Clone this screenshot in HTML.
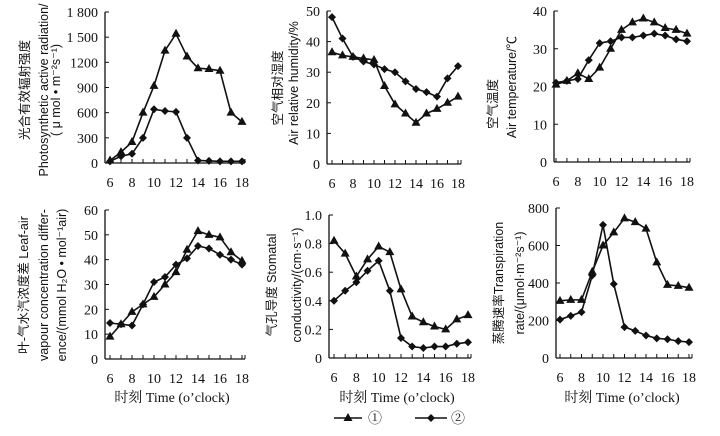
<!DOCTYPE html>
<html><head><meta charset="utf-8">
<style>
html,body{margin:0;padding:0;background:#fff;}
svg{display:block;}
.tk{font-family:"Liberation Serif","Noto Serif CJK SC",serif;font-size:14px;fill:#111;}
.yl{font-family:"Liberation Sans","Noto Sans CJK SC",sans-serif;font-size:12.5px;fill:#111;}
.xt{font-family:"Liberation Serif","Noto Serif CJK SC",serif;font-size:14px;fill:#111;}
</style></head>
<body>
<svg id="c" width="720" height="436" viewBox="0 0 720 436" xmlns="http://www.w3.org/2000/svg"></svg>
<script>
const hours=[6,7,8,9,10,11,12,13,14,15,16,17,18];
const xTickLabels=[6,8,10,12,14,16,18];
const p1S1=[30,130,250,600,920,1340,1540,1270,1130,1120,1100,600,490];
const p1S2=[20,80,110,300,640,620,610,300,30,25,20,20,20];
const p1Ticks=["0","300","600","900","1200","1 500","1 800"];
const p2S1=[36.5,35.5,35,34.5,34,25.5,19.5,16.5,13.5,16.5,18,20,22];
const p2S2=[48,41,35,33.5,32.5,31,30,27,24.5,23.5,22,28,32];
const p2Ticks=["0","10","20","30","40","50"];
const p3S1=[20.5,21.5,23.5,22,25,30,35,37,38,37,35.5,35,34];
const p3S2=[21,21.5,22,27,31.5,32,33,33,33.5,34,33.5,32.5,32];
const p3Ticks=["0","10","20","30","40"];
const p4S1=[9,14,19,22,25,30,35,44,51.5,50,49,43,39.5];
const p4S2=[14.5,14,13.5,22,31,33,38,40.5,45.5,44.5,42,40,38];
const p4Ticks=["0","10","20","30","40","50","60"];
const p5S1=[0.82,0.73,0.57,0.69,0.78,0.74,0.48,0.29,0.25,0.22,0.20,0.27,0.30];
const p5S2=[0.40,0.47,0.53,0.61,0.68,0.47,0.14,0.08,0.07,0.08,0.08,0.10,0.11];
const p5Ticks=["0","0.2","0.4","0.6","0.8","1.0"];
const p6S1=[305,310,310,460,600,670,745,725,690,510,390,385,375];
const p6S2=[205,225,245,440,710,395,165,145,120,105,100,90,85];
const p6Ticks=["0","200","400","600","800"];

const NS="http://www.w3.org/2000/svg";
const svg=document.getElementById('c');
function mk(t,a,p){const e=document.createElementNS(NS,t);for(const k in a)e.setAttribute(k,a[k]);(p||svg).appendChild(e);return e;}

const panels=[
 {id:'par',ax:105,top:12,bot:163,x6:110,x18:242,ymax:1800,s1:p1S1,s2:p1S2,ticks:p1Ticks,
  lab:[{x:29,y:90,t:'光合有效辐射强度'},{x:48,y:90,t:'Photosynthetic active radiation/'},{x:60,y:90,t:'( μ mol • m⁻²s⁻¹)'}]},
 {id:'rh',ax:327,top:11,bot:164,x6:332,x18:458,ymax:50,s1:p2S1,s2:p2S2,ticks:p2Ticks,
  lab:[{x:282,y:88,t:'空气相对湿度'},{x:298,y:83,t:'Air relative humidity/%'}]},
 {id:'temp',ax:554,top:11,bot:162,x6:556,x18:687,ymax:40,s1:p3S1,s2:p3S2,ticks:p3Ticks,
  lab:[{x:497,y:104,t:'空气温度'},{x:516,y:87,t:'Air temperature/℃'}]},
 {id:'vpd',ax:105,top:210,bot:359,x6:110,x18:242,ymax:60,s1:p4S1,s2:p4S2,ticks:p4Ticks,
  lab:[{x:28,y:285,t:'叶-气水汽浓度差  Leaf-air'},{x:48,y:285,t:'vapour concentration differ-'},{x:66,y:285,t:'ence/(mmol H₂O • mol⁻¹air)'}]},
 {id:'gs',ax:329,top:215,bot:358,x6:334,x18:468,ymax:1.0,s1:p5S1,s2:p5S2,ticks:p5Ticks,
  lab:[{x:276,y:285,t:'气孔导度 Stomatal'},{x:301,y:285,t:'conductivity/(cm·s⁻¹)'}]},
 {id:'tr',ax:556,top:208,bot:358,x6:560,x18:689,ymax:800,s1:p6S1,s2:p6S2,ticks:p6Ticks,
  lab:[{x:503,y:283,t:'蒸腾速率Transpiration'},{x:524,y:283,t:'rate/(μmol·m⁻²s⁻¹)'}]}
];

panels.forEach(p=>{
 const g=mk('g',{});
 
 
 const xs=h=>p.x6+(h-6)*(p.x18-p.x6)/12;
 const ys=v=>p.bot-v/p.ymax*(p.bot-p.top);
 const right=p.x18+3;
 const ya=mk('line',{x1:p.ax,y1:p.top,x2:p.ax,y2:p.bot,stroke:'#111','stroke-width':1.3},g);
 
 const xa=mk('line',{x1:p.ax,y1:p.bot,x2:right,y2:p.bot,stroke:'#111','stroke-width':1.3},g);
 
 p.ticks.forEach((t,i)=>{
  const v=i*p.ymax/(p.ticks.length-1);const y=ys(v);
  mk('line',{x1:p.ax,y1:y,x2:p.ax+4,y2:y,stroke:'#111','stroke-width':1},g);
  const tx=mk('text',{x:p.ax-7,y:y+5,'text-anchor':'end',class:'tk'},g);tx.textContent=t;
  
 });
 hours.forEach(h=>{mk('line',{x1:xs(h),y1:p.bot,x2:xs(h),y2:p.bot-4,stroke:'#111','stroke-width':1},g);});
 mk('line',{x1:right,y1:p.bot,x2:right,y2:p.bot-4,stroke:'#111','stroke-width':1},g);
 xTickLabels.forEach(h=>{
  const tx=mk('text',{x:xs(h),y:p.bot+24,'text-anchor':'middle',class:'tk'},g);tx.textContent=h;
  
 });
 p.lab.forEach(l=>{
  const tx=mk('text',{x:l.x,y:l.y,'text-anchor':'middle',class:'yl',transform:`rotate(-90 ${l.x} ${l.y})`},g);
  tx.textContent=l.t;
  
 });
 [[p.s1,'tri'],[p.s2,'dia']].forEach(([s,m],k)=>{
  const pts=s.map((v,i)=>xs(hours[i])+','+ys(v)).join(' ');
  const pl=mk('polyline',{points:pts,fill:'none',stroke:'#111','stroke-width':1.6},g);
  
  s.forEach((v,i)=>{
   const x=xs(hours[i]),y=ys(v);let e;
   if(m==='tri')e=mk('polygon',{points:`${x},${y-5} ${x-4.5},${y+3} ${x+4.5},${y+3}`,fill:'#111'},g);
   else e=mk('polygon',{points:`${x},${y-4} ${x+4},${y} ${x},${y+4} ${x-4},${y}`,fill:'#111'},g);
   
  });
 });
});

[[172,402],[397,402],[622,402]].forEach(([x,y])=>{
 const t=mk('text',{x:x,y:y,'text-anchor':'middle',class:'xt'});t.textContent='时刻   Time (o’clock)';
 
});
const lg=mk('g',{});

mk('line',{x1:334,y1:418,x2:362,y2:418,stroke:'#111','stroke-width':1.6},lg);
mk('polygon',{points:'348,413 343.5,421 352.5,421',fill:'#111'},lg);
const l1=mk('text',{x:368,y:423,class:'xt'},lg);l1.textContent='①';

mk('line',{x1:415,y1:418,x2:447,y2:418,stroke:'#111','stroke-width':1.6},lg);
mk('polygon',{points:'431,414 435,418 431,422 427,418',fill:'#111'},lg);
const l2=mk('text',{x:451,y:423,class:'xt'},lg);l2.textContent='②';

</script>
</body></html>
